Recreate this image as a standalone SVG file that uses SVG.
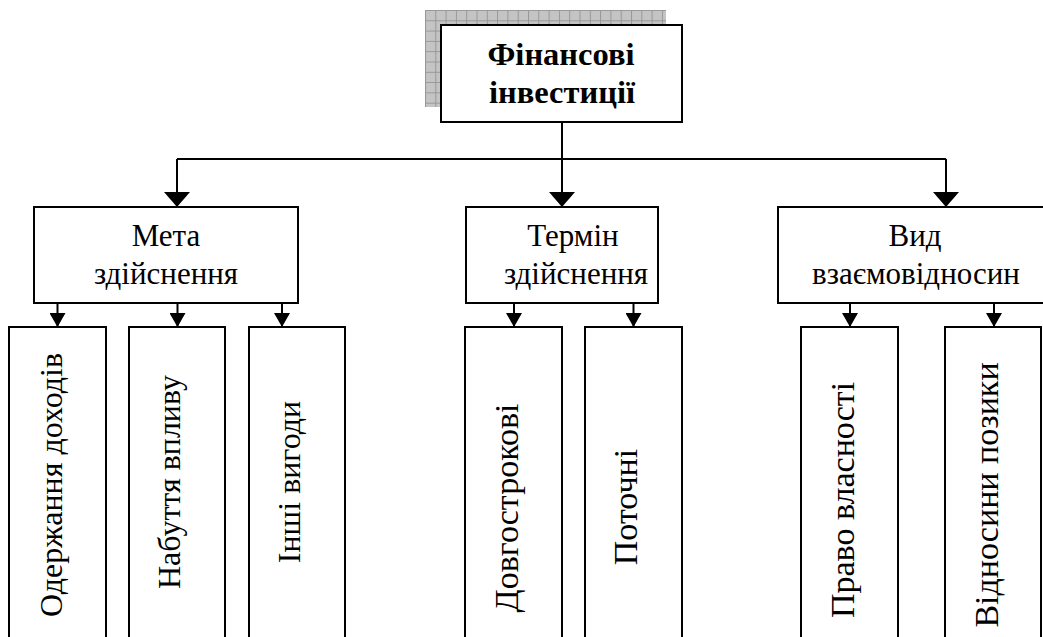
<svg xmlns="http://www.w3.org/2000/svg" width="1043" height="637" viewBox="0 0 1043 637">
  <defs>
    <style>
      .box { fill: #ffffff; stroke: #000000; stroke-width: 2; }
      .wire { fill: none; stroke: #000000; stroke-width: 2; }
      .lbl { font-family: "Liberation Serif", "Times New Roman", serif; font-size: 31px; fill: #000000; text-anchor: middle; }
      .vl { font-size: 32px; }
      .vr { font-size: 34px; }
      .title { font-family: "Liberation Serif", "Times New Roman", serif; font-size: 32.5px; font-weight: bold; fill: #000000; text-anchor: middle; }
    </style>
    <!-- hatched grid used for the shadow behind the root box -->
    <pattern id="grid" x="425" y="10" width="10.3" height="10.3" patternUnits="userSpaceOnUse">
      <rect width="10.3" height="10.3" fill="#c4c4c4"/>
      <path d="M0 0.5 H10.3 M0.5 0 V10.3" stroke="#979797" stroke-width="1" fill="none"/>
    </pattern>
    <marker id="headBig" viewBox="0 0 26 15" refX="13" refY="15" markerWidth="26" markerHeight="15" markerUnits="userSpaceOnUse">
      <path d="M0 0 L26 0 L13 15 Z" fill="#000000"/>
    </marker>
    <marker id="headSmall" viewBox="0 0 16 14" refX="8" refY="14" markerWidth="16" markerHeight="14" markerUnits="userSpaceOnUse">
      <path d="M0 0 L16 0 L8 14 Z" fill="#000000"/>
    </marker>
  </defs>

  <rect width="1043" height="637" fill="#ffffff"/>

  <!-- connectors -->
  <g id="connectors" class="wire">
    <path d="M177 159 H946"/>
    <path d="M177 159 V207" marker-end="url(#headBig)"/>
    <path d="M562 122 V207" marker-end="url(#headBig)"/>
    <path d="M946 159 V207" marker-end="url(#headBig)"/>
    <path d="M57.5 303 V327" marker-end="url(#headSmall)"/>
    <path d="M177.5 303 V327" marker-end="url(#headSmall)"/>
    <path d="M282 303 V327" marker-end="url(#headSmall)"/>
    <path d="M514 303 V327" marker-end="url(#headSmall)"/>
    <path d="M633.5 303 V327" marker-end="url(#headSmall)"/>
    <path d="M850 303 V327" marker-end="url(#headSmall)"/>
    <path d="M994 303 V327" marker-end="url(#headSmall)"/>
  </g>

  <!-- root -->
  <g id="root">
    <rect x="425" y="10" width="241" height="97" fill="url(#grid)"/>
    <rect class="box" x="441" y="25" width="241" height="97"/>
    <text class="title" x="561" y="65">Фінансові</text>
    <text class="title" x="562" y="103">інвестиції</text>
  </g>

  <!-- second level -->
  <g id="goal">
    <rect class="box" x="34" y="207" width="264" height="96"/>
    <text class="lbl" x="166" y="246">Мета</text>
    <text class="lbl" x="166" y="284">здійснення</text>
  </g>
  <g id="term">
    <rect class="box" x="466" y="207" width="192" height="96"/>
    <text class="lbl" x="573" y="246">Термін</text>
    <text class="lbl" x="576" y="284">здійснення</text>
  </g>
  <g id="relation">
    <rect class="box" x="778" y="207" width="274" height="96"/>
    <text class="lbl" x="915" y="246">Вид</text>
    <text class="lbl" x="916" y="284">взаємовідносин</text>
  </g>

  <!-- third level -->
  <g id="income">
    <rect class="box" x="9" y="327" width="97" height="330"/>
    <text class="lbl vl" transform="translate(61.5 485) rotate(-90)">Одержання доходів</text>
  </g>
  <g id="influence">
    <rect class="box" x="129" y="327" width="96" height="330"/>
    <text class="lbl vl" transform="translate(180 482) rotate(-90)">Набуття впливу</text>
  </g>
  <g id="other">
    <rect class="box" x="249" y="327" width="96" height="330"/>
    <text class="lbl vl" transform="translate(300 482) rotate(-90)">Інші вигоди</text>
  </g>
  <g id="longterm">
    <rect class="box" x="465" y="327" width="97" height="330"/>
    <text class="lbl vr" transform="translate(518 508) rotate(-90)">Довгострокові</text>
  </g>
  <g id="current">
    <rect class="box" x="585" y="327" width="97" height="330"/>
    <text class="lbl vr" transform="translate(637 507) rotate(-90)">Поточні</text>
  </g>
  <g id="ownership">
    <rect class="box" x="801" y="327" width="97" height="330"/>
    <text class="lbl vr" transform="translate(854 500) rotate(-90)">Право власності</text>
  </g>
  <g id="loan">
    <rect class="box" x="945" y="327" width="96" height="330"/>
    <text class="lbl vr" transform="translate(998 495) rotate(-90)">Відносини позики</text>
  </g>
</svg>
